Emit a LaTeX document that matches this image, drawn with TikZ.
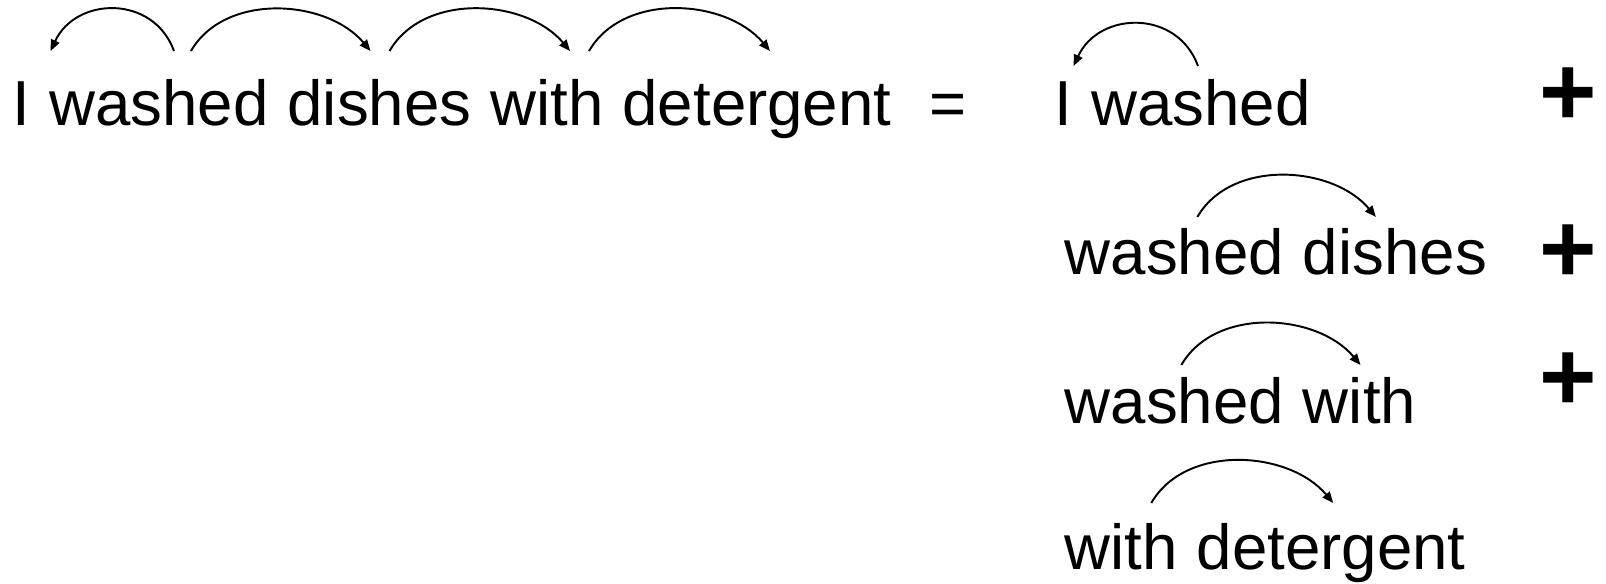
\documentclass[tikz,border=0pt]{standalone}
\usepackage{fontspec}
\setmainfont{Liberation Sans}
\usetikzlibrary{arrows.meta, positioning}

\begin{document}
\begin{tikzpicture}[
  word/.style={inner sep=0pt, font=\fontsize{18.1}{20}\selectfont},
  plus/.style={inner sep=0pt, font=\fontsize{28}{30}\selectfont\bfseries},
  dep/.style={-{Triangle[length=3.2pt, width=2.6pt]}, line width=0.55pt},
  depR/.style={dep, out=60, in=130, looseness=0.97},
  depL/.style={dep, out=110, in=65, looseness=1.25},
  node distance=5pt,
]
  \useasboundingbox (0,0) rectangle (16.06,-5.83);

  \node[word, anchor=base west] (I) at (0.12,-1.25) {I};
  \node[word, base right=of I] (washed) {washed};
  \node[word, base right=of washed] (dishes) {dishes};
  \node[word, base right=of dishes] (with) {with};
  \node[word, base right=of with] (detergent) {detergent};
  \node[word, base right=0.37cm of detergent] (eq) {=};
  \draw[depL] ([shift={(0.15,0.74)}]washed.base) to ([shift={(0.29,0.74)}]I.base);
  \draw[depR] ([shift={(0.32,0.74)}]washed.base) to ([shift={(-0.09,0.74)}]dishes.base);
  \draw[depR] ([shift={(0.10,0.74)}]dishes.base) to ([shift={(0.23,0.74)}]with.base);
  \draw[depR] ([shift={(0.42,0.74)}]with.base) to ([shift={(0.13,0.74)}]detergent.base);

  \node[word, anchor=base west] (iw-I) at (10.54,-1.25) {I};
  \node[word, base right=of iw-I] (iw-washed) {washed};
  \node[word, anchor=base west] (wd-washed) at (10.64,-2.745) {washed};
  \node[word, base right=of wd-washed] (wd-dishes) {dishes};
  \node[word, anchor=base west] (ww-washed) at (10.64,-4.23) {washed};
  \node[word, base right=of ww-washed] (ww-with) {with};
  \node[word, anchor=base west] (wt-with) at (10.64,-5.69) {with};
  \node[word, base right=of wt-with] (wt-detergent) {detergent};
  \draw[depL] ([shift={(-0.03,0.59)}]iw-washed.base) to ([shift={(0.10,0.59)}]iw-I.base);
  \draw[depR] ([shift={(0.23,0.575)}]wd-washed.base) to ([shift={(-0.19,0.575)}]wd-dishes.base);
  \draw[depR] ([shift={(0.07,0.58)}]ww-washed.base) to ([shift={(0.01,0.58)}]ww-with.base);
  \draw[depR] ([shift={(0.30,0.66)}]wt-with.base) to ([shift={(0.02,0.66)}]wt-detergent.base);

  \node[plus] (plus1) at (15.68,-0.97) {+};
  \node[plus] (plus2) at (15.68,-2.54) {+};
  \node[plus] (plus3) at (15.68,-3.82) {+};
\end{tikzpicture}
\end{document}
